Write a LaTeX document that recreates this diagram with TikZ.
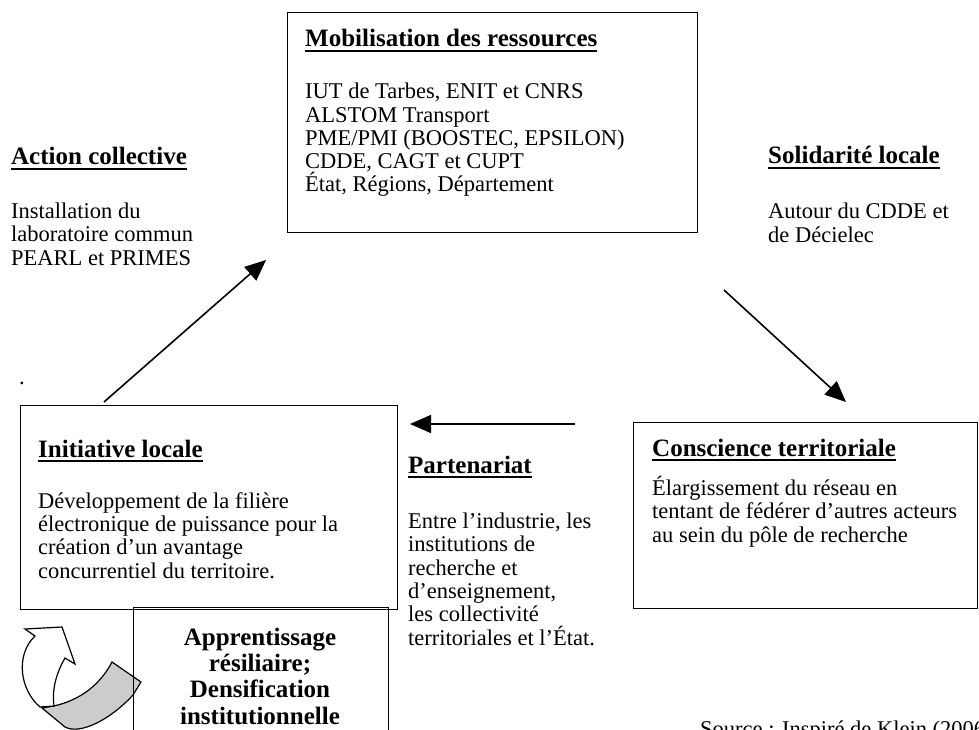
\documentclass[tikz,border=0pt]{standalone}
\usepackage{fontspec}
\setmainfont{Liberation Serif}
\usetikzlibrary{arrows.meta}
\newcommand{\titre}[1]{\vtop{\hbox{\bfseries #1}\kern2.5pt\hrule height 1.8pt}}
\tikzset{
  boite/.style={draw, line width=1.3pt, inner sep=0pt, anchor=north west},
  corps/.style={anchor=base west, inner sep=0pt, align=left, font=\fontsize{22.5}{23.3}\selectfont},
  entete/.style={anchor=base west, inner sep=0pt, font=\fontsize{25}{26}\selectfont},
  fleche/.style={line width=1.6pt, -{Triangle[length=21pt,width=18pt]}},
}
\begin{document}
\begin{tikzpicture}[x=1pt, y=-1pt]
    \useasboundingbox (0,0) rectangle (979,730);
    \clip (0,0) rectangle (979,730);
    % boxes
    \node[boite, minimum width=410pt, minimum height=220pt] (mobil) at (287,12) {};
    \node[boite, minimum width=377pt, minimum height=204pt] (initi) at (20,405) {};
    \node[boite, minimum width=344pt, minimum height=186pt] (consc) at (633,422) {};
    % curved arrow under the box
    \draw[line width=1.2pt, fill=black!20] (42,708) -- (54,706)
        .. controls (80,700) and (100,685) .. (112,662) -- (141,682) -- (133,695)
        .. controls (110,720) and (80,735) .. (65,727) -- cycle;
    \draw[line width=1.2pt, fill=white] (40,707) .. controls (20,690) and (15,655) .. (35,636)
        -- (25,629) -- (62,627) -- (75,664) -- (65,658)
        .. controls (55,675) and (52,692) .. (54,706) -- cycle;
    \node[boite, minimum width=255pt, minimum height=140pt] (appren) at (133,607) {};
    % texts (multi-line nodes sit on their last line)
    \node[entete] (t1) at (305,47) {\titre{Mobilisation des ressources}};
    \node[corps] (c1) at (305,192) {IUT de Tarbes, ENIT et CNRS\\ALSTOM Transport\\PME/PMI (BOOSTEC, EPSILON)\\CDDE, CAGT et CUPT\\État, Régions, Département};
    \node[entete] (t2) at (11,165) {\titre{Action collective}};
    \node[corps] (c2) at (11,265) {Installation du\\laboratoire commun\\PEARL et PRIMES};
    \node[entete] (t3) at (768,164) {\titre{Solidarité locale}};
    \node[corps] (c3) at (768,242) {Autour du CDDE et\\de Décielec};
    \node[entete] (t4) at (38,457) {\titre{Initiative locale}};
    \node[corps] (c4) at (38,578) {Développement de la filière\\électronique de puissance pour la\\création d’un avantage\\concurrentiel du territoire.};
    \node[entete] (t5) at (408,473) {\titre{Partenariat}};
    \node[corps] (c5) at (408,645) {Entre l’industrie, les\\institutions de\\recherche et\\d’enseignement,\\les collectivité\\territoriales et l’État.};
    \node[entete] (t6) at (652,456) {\titre{Conscience territoriale}};
    \node[corps] (c6) at (652,542) {Élargissement du réseau en\\tentant de fédérer d’autres acteurs\\au sein du pôle de recherche};
    \node[entete, anchor=base, align=center, font=\fontsize{25}{26.3}\selectfont\bfseries] (c7) at (260,724) {Apprentissage\\résiliaire;\\Densification\\institutionnelle};
    \node[corps] (pt) at (19,384) {.};
    \node[corps] (src) at (700,736) {Source : Inspiré de Klein (2006)};
    % arrows
    \coordinate (a1s) at (104,402);
    \coordinate (a1e) at (266,260);
    \coordinate (a2s) at (724,290);
    \coordinate (a2e) at (846,402);
    \coordinate (a3s) at (575,424);
    \coordinate (a3e) at (410,424);
    \draw[fleche] (a1s) -- (a1e);
    \draw[fleche] (a2s) -- (a2e);
    \draw[fleche] (a3s) -- (a3e);
\end{tikzpicture}
\end{document}
